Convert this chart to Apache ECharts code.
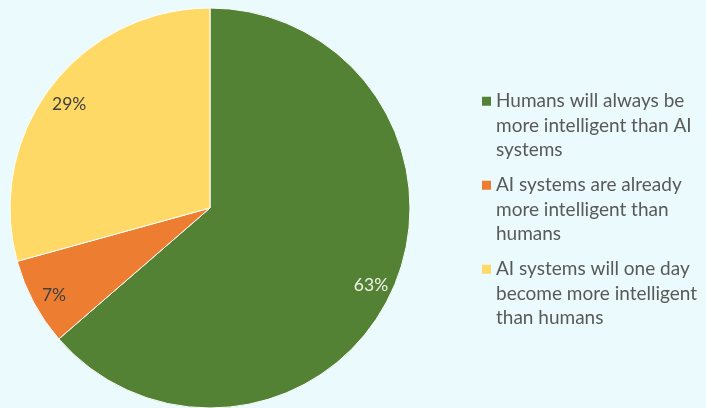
<!DOCTYPE html>
<html><head><meta charset="utf-8">
<script src="https://cdn.jsdelivr.net/npm/echarts@6/dist/echarts.min.js"></script>
<style>html,body{margin:0;padding:0;background:#EBFAFC;}#c{width:706px;height:408px;}</style>
</head><body><div id="c"></div>
<script>
const categories = [
  "Humans will always be more intelligent than AI systems",
  "AI systems are already more intelligent than humans",
  "AI systems will one day become more intelligent than humans"
];
const legendLines = [
  "Humans will always be\nmore intelligent than AI\nsystems",
  "AI systems are already\nmore intelligent than\nhumans",
  "AI systems will one day\nbecome more intelligent\nthan humans"
];
const values = [63, 7, 29];
const colors = ["#548235", "#ED7D31", "#FFD966"];
const labelColors = ["#EEF3EA", "#404040", "#404040"];

const data = categories.map((n, i) => ({
  name: n, value: values[i],
  itemStyle: { color: colors[i] },
  label: { color: labelColors[i] }
}));
const chart = echarts.init(document.getElementById('c'), null, { renderer: 'canvas' });
const font = 'Lato, "Open Sans", sans-serif';
chart.setOption({
  backgroundColor: '#EBFAFC',
  animation: false,
  legend: {
    orient: 'vertical',
    left: 482, top: 89, padding: 0,
    icon: 'path://M0,0H9V9H0Z M0,58',
    itemWidth: 9, itemHeight: 58,
    itemGap: 10.5,
    itemStyle: { borderWidth: 0 },
    data: categories,
    formatter: name => legendLines[categories.indexOf(name)],
    textStyle: { fontFamily: font, fontSize: 19, color: '#595959', lineHeight: 24.5 }
  },
  series: [
    {
      type: 'pie', center: [210, 208], radius: 200,
      startAngle: 90, clockwise: true,
      data: data,
      itemStyle: { borderColor: '#FFFFFF', borderWidth: 1 },
      label: { show: false }, labelLine: { show: false }
    },
    {
      type: 'pie', center: [210, 208], radius: [148, 200],
      startAngle: 90, clockwise: true, silent: true,
      data: data.map(d => ({ name: d.name, value: d.value, label: d.label, itemStyle: { color: 'rgba(0,0,0,0)' } })),
      itemStyle: { borderWidth: 0 },
      legendHoverLink: false,
      label: { show: true, position: 'inside', formatter: '{c}%', fontFamily: font, fontSize: 17.5, offset: [0, 4] },
      labelLine: { show: false }
    }
  ]
});
</script></body></html>
